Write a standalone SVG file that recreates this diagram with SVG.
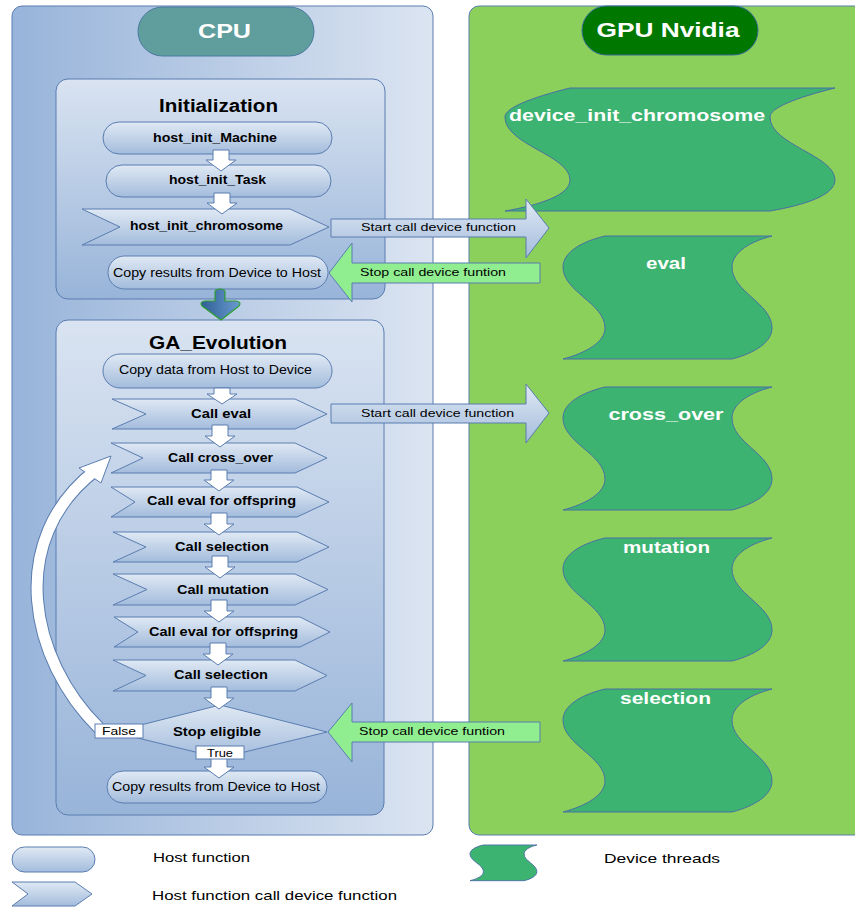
<svg xmlns="http://www.w3.org/2000/svg" xmlns:xlink="http://www.w3.org/1999/xlink" width="855" height="908" viewBox="0 0 855 908">
<defs>
  <linearGradient id="gCpu" x1="0" y1="0" x2="1" y2="0">
    <stop offset="0" stop-color="#98b4da"/>
    <stop offset="1" stop-color="#dbe4f1"/>
  </linearGradient>
  <linearGradient id="gBox" x1="0" y1="0" x2="0" y2="1">
    <stop offset="0" stop-color="#d9e3f1"/>
    <stop offset="1" stop-color="#98b4d9"/>
  </linearGradient>
  <linearGradient id="gNode" x1="0" y1="0" x2="0" y2="1">
    <stop offset="0" stop-color="#e0e9f4"/>
    <stop offset="1" stop-color="#a3bcdc"/>
  </linearGradient>
  <linearGradient id="gDown" x1="0" y1="0" x2="1" y2="0">
    <stop offset="0" stop-color="#2f5f95"/>
    <stop offset="1" stop-color="#6a9bd0"/>
  </linearGradient>
  <path id="wave" d="M42,0 L209,0 C182,7 169,19 169,31 C169,56 209,67 209,92 C209,106 192,117 169,123 L0,123 C23,117 42,106 42,92 C42,67 0,56 0,31 C0,19 13,7 42,0 Z"/>
  <style>
    text { font-family: "Liberation Sans", Arial, sans-serif; }
    .b { font-weight: bold; }
    .c { text-anchor: middle; }
    .panel { stroke: #5a7db0; stroke-width: 1; }
    .box { fill: url(#gBox); stroke: #5a7db0; stroke-width: 1; }
    .node { fill: url(#gNode); stroke: #5a7db0; stroke-width: 1; }
    .wave { fill: #3cb371; stroke: #4a6fa5; stroke-width: 1; }
    .wa { fill: #ffffff; stroke: #5a7db0; stroke-width: 1; }
    .start { fill: url(#gNode); stroke: #5a7db0; stroke-width: 1; }
    .stop { fill: #90ee90; stroke: #5a7db0; stroke-width: 1; }
    .t12 { font-size: 12px; fill: #000; }
    .t11 { font-size: 11.5px; fill: #000; }
    .h { fill: #ffffff; }
    .lbl { fill: #ffffff; stroke: #5a7db0; stroke-width: 1; }
  </style>
</defs>

<!-- Panels -->
<g id="cpu-panel">
  <rect class="panel" x="12" y="6" width="421" height="829" rx="10" fill="url(#gCpu)"/>
  <rect x="138" y="7" width="176" height="49" rx="24.5" fill="#5f9e9d" stroke="#4a7aa0"/>
  <text class="b c h" x="224.5" y="38" font-size="21" textLength="53" lengthAdjust="spacingAndGlyphs">CPU</text>
</g>
<g id="gpu-panel">
  <rect class="panel" x="469" y="6" width="400" height="829" rx="10" fill="#8ad05a"/>
  <rect x="582" y="6" width="176" height="49" rx="24.5" fill="#007800" stroke="#3a6a9a"/>
  <text class="b c h" x="668" y="37" font-size="19.5" textLength="143" lengthAdjust="spacingAndGlyphs">GPU Nvidia</text>
</g>

<!-- Containers -->
<g id="initialization">
  <rect class="box" x="56" y="79" width="329" height="220" rx="12"/>
  <text class="b c" x="218.5" y="112" font-size="17.5" textLength="119" lengthAdjust="spacingAndGlyphs">Initialization</text>
</g>
<g id="ga_evolution">
  <rect class="box" x="56" y="320" width="328" height="495" rx="12"/>
  <text class="b c" x="218" y="349" font-size="17.5" textLength="138" lengthAdjust="spacingAndGlyphs">GA_Evolution</text>
</g>

<!-- Initialization nodes -->
<g id="host_init_machine">
  <rect class="node" x="103" y="122" width="229" height="32" rx="16"/>
  <text class="b c t12" x="215" y="142" textLength="124" lengthAdjust="spacingAndGlyphs">host_init_Machine</text>
</g>
<g id="host_init_task">
  <rect class="node" x="106" y="165" width="225" height="32" rx="16"/>
  <text class="b c t12" x="217.5" y="184" textLength="97" lengthAdjust="spacingAndGlyphs">host_init_Task</text>
</g>
<g id="host_init_chromosome">
  <polygon class="node" points="82,209 290,209 329,227 290,245 82,245 120,227"/>
  <text class="b c t12" x="206.5" y="230" textLength="153" lengthAdjust="spacingAndGlyphs">host_init_chromosome</text>
</g>
<g id="copy_results_init">
  <rect class="node" x="108" y="256" width="220" height="33" rx="16.5"/>
  <text class="c t12" x="217" y="277" textLength="208" lengthAdjust="spacingAndGlyphs">Copy results from Device to Host</text>
</g>

<!-- GA nodes -->
<g id="copy_data">
  <rect class="node" x="103" y="354" width="229" height="34" rx="17"/>
  <text class="c t12" x="215.5" y="374" textLength="193" lengthAdjust="spacingAndGlyphs">Copy data from Host to Device</text>
</g>
<g id="call_eval">
  <polygon class="node" points="112,399 295,399 327,414 295,429 112,429 146,414"/>
  <text class="b c t12" x="221" y="418" textLength="60" lengthAdjust="spacingAndGlyphs">Call eval</text>
</g>
<g id="call_cross_over">
  <polygon class="node" points="111,443 295,443 327,458 295,473 111,473 143,458"/>
  <text class="b c t12" x="220.5" y="462" textLength="105" lengthAdjust="spacingAndGlyphs">Call cross_over</text>
</g>
<g id="call_eval_offspring_1">
  <polygon class="node" points="111,487 297,487 329,502 297,517 111,517 135,502"/>
  <text class="b c t12" x="221.5" y="505" textLength="149" lengthAdjust="spacingAndGlyphs">Call eval for offspring</text>
</g>
<g id="call_selection_1">
  <polygon class="node" points="113,532 297,532 329,547 297,562 113,562 146,547"/>
  <text class="b c t12" x="222" y="551" textLength="94" lengthAdjust="spacingAndGlyphs">Call selection</text>
</g>
<g id="call_mutation">
  <polygon class="node" points="113,574 295,574 328,589.5 295,605 113,605 147,589.5"/>
  <text class="b c t12" x="223" y="593.5" textLength="92" lengthAdjust="spacingAndGlyphs">Call mutation</text>
</g>
<g id="call_eval_offspring_2">
  <polygon class="node" points="114,617 300,617 330,632 300,647 114,647 138,632"/>
  <text class="b c t12" x="223.5" y="636" textLength="149" lengthAdjust="spacingAndGlyphs">Call eval for offspring</text>
</g>
<g id="call_selection_2">
  <polygon class="node" points="113,660 295,660 327,675.5 295,691 113,691 146,675.5"/>
  <text class="b c t12" x="221" y="679" textLength="94" lengthAdjust="spacingAndGlyphs">Call selection</text>
</g>
<g id="stop_eligible">
  <polygon class="node" points="220,705 327,732 220,758 113,732"/>
  <text class="b c t12" x="217" y="736" textLength="88" lengthAdjust="spacingAndGlyphs">Stop eligible</text>
</g>
<g id="copy_results_ga">
  <rect class="node" x="107" y="771" width="220" height="32" rx="16"/>
  <text class="c t12" x="216" y="791" textLength="208" lengthAdjust="spacingAndGlyphs">Copy results from Device to Host</text>
</g>

<!-- GPU device threads -->
<g id="device_init_chromosome">
  <path class="wave" d="M570,88 L835,88 C795,98 770,108 770,117 C770,145 835,155 835,180 C835,195 805,205 770,211 L505,211 C540,205 570,195 570,180 C570,155 505,145 505,117 C505,108 530,98 570,88 Z"/>
  <text class="b c h" x="637" y="121" font-size="17" textLength="256" lengthAdjust="spacingAndGlyphs">device_init_chromosome</text>
</g>
<g id="dev_eval">
  <use class="wave" xlink:href="#wave" href="#wave" transform="translate(563,236)"/>
  <text class="b c h" x="666" y="269" font-size="17" textLength="40" lengthAdjust="spacingAndGlyphs">eval</text>
</g>
<g id="dev_cross_over">
  <use class="wave" xlink:href="#wave" href="#wave" transform="translate(563,387)"/>
  <text class="b c h" x="666" y="420" font-size="17" textLength="115" lengthAdjust="spacingAndGlyphs">cross_over</text>
</g>
<g id="dev_mutation">
  <use class="wave" xlink:href="#wave" href="#wave" transform="translate(563,538)"/>
  <text class="b c h" x="666.5" y="553" font-size="17" textLength="87" lengthAdjust="spacingAndGlyphs">mutation</text>
</g>
<g id="dev_selection">
  <use class="wave" xlink:href="#wave" href="#wave" transform="translate(563,689)"/>
  <text class="b c h" x="665.5" y="704" font-size="17" textLength="91" lengthAdjust="spacingAndGlyphs">selection</text>
</g>

<!-- Connectors -->
<g id="connectors">
  <!-- white flow arrows -->
  <path class="wa" d="M213,150 L229,150 L229,160 L236,160 L221,171 L206,160 L213,160 Z"/>
  <path class="wa" d="M214,193 L230,193 L230,203 L237,203 L222,214 L207,203 L214,203 Z"/>
  <path class="wa" d="M214,388 L230,388 L230,394 L237,394 L222,404 L207,394 L214,394 Z"/>
  <path class="wa" d="M212,425 L228,425 L228,436 L235,436 L220,447 L205,436 L212,436 Z"/>
  <path class="wa" d="M211,470 L227,470 L227,480 L234,480 L219,491 L204,480 L211,480 Z"/>
  <path class="wa" d="M211,513 L227,513 L227,524 L234,524 L219,535 L204,524 L211,524 Z"/>
  <path class="wa" d="M212,556 L228,556 L228,567 L235,567 L220,578 L205,567 L212,567 Z"/>
  <path class="wa" d="M211,600 L227,600 L227,611 L234,611 L219,622 L204,611 L211,611 Z"/>
  <path class="wa" d="M210,643 L226,643 L226,654 L233,654 L218,665 L203,654 L210,654 Z"/>
  <path class="wa" d="M211,687 L227,687 L227,698 L234,698 L219,709 L204,698 L211,698 Z"/>
  <path class="wa" d="M211,757 L227,757 L227,767 L234,767 L219,778 L204,767 L211,767 Z"/>

  <!-- blue arrow between containers -->
  <path d="M215,292 Q215,289 220,289 Q225,289 225,292 L225,301 L236,301 Q242,302 239,306 L221,320 L202,306 Q199,302 205,301 L215,301 Z" fill="url(#gDown)" stroke="#2ea02e" stroke-width="1.2" stroke-linejoin="round"/>

  <!-- loop arrow (False) -->
  <path d="M99,728 C30,660 5,540 96,470" fill="none" stroke="#5a7db0" stroke-width="13"/>
  <polygon class="wa" points="111,456 79,468 101,483"/>
  <path d="M99,728 C30,660 5,540 96,470" fill="none" stroke="#ffffff" stroke-width="11"/>

  <!-- start / stop call arrows -->
  <path class="start" d="M331,219 L526,219 L526,199 L549,228 L526,258 L526,237 L331,237 Z"/>
  <text class="c t11" x="438.5" y="231" textLength="155" lengthAdjust="spacingAndGlyphs">Start call device function</text>
  <path class="stop" d="M540,263 L352,263 L352,243 L329,273 L352,302 L352,283 L540,283 Z"/>
  <text class="c t11" x="433" y="276" textLength="146" lengthAdjust="spacingAndGlyphs">Stop call device funtion</text>
  <path class="start" d="M331,404 L526,404 L526,384 L549,413 L526,443 L526,423 L331,423 Z"/>
  <text class="c t11" x="437.5" y="417" textLength="153" lengthAdjust="spacingAndGlyphs">Start call device function</text>
  <path class="stop" d="M540,722 L352,722 L352,703 L328,732 L352,762 L352,742 L540,742 Z"/>
  <text class="c t11" x="432" y="735" textLength="146" lengthAdjust="spacingAndGlyphs">Stop call device funtion</text>

  <!-- decision labels -->
  <rect class="lbl" x="95" y="724" width="48" height="14"/>
  <text class="c t11" x="119" y="735" textLength="34" lengthAdjust="spacingAndGlyphs">False</text>
  <rect class="lbl" x="196" y="746" width="48" height="13"/>
  <text class="c t11" x="220" y="756.5" textLength="26" lengthAdjust="spacingAndGlyphs">True</text>
</g>

<!-- Legend -->
<g id="legend-host">
  <rect class="node" x="12" y="847" width="83" height="25" rx="12.5"/>
  <text x="153" y="862" font-size="13.5" textLength="97" lengthAdjust="spacingAndGlyphs">Host function</text>
</g>
<g id="legend-call">
  <polygon class="node" points="12,882 75,882 92,894 75,906 12,906 28,894"/>
  <text x="152" y="900" font-size="13.5" textLength="245" lengthAdjust="spacingAndGlyphs">Host function call device function</text>
</g>
<g id="legend-device">
  <use class="wave" xlink:href="#wave" href="#wave" transform="translate(470,845) scale(0.32,0.29)" vector-effect="non-scaling-stroke" style="stroke-width:3"/>
  <text x="604" y="863" font-size="13.5" textLength="116" lengthAdjust="spacingAndGlyphs">Device threads</text>
</g>
</svg>
